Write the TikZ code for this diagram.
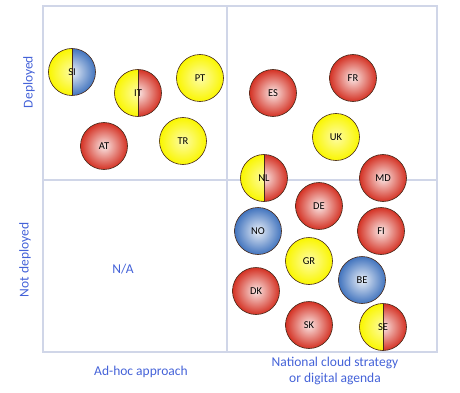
\documentclass[tikz,border=0pt]{standalone}
\usepackage{fontspec}
\setmainfont{Carlito}
\definecolor{gridc}{RGB}{208,214,232}
\definecolor{labelc}{RGB}{68,98,216}
\definecolor{redc}{RGB}{212,50,36}
\definecolor{yelc}{RGB}{250,246,0}
\definecolor{bluec}{RGB}{66,116,190}
\definecolor{rimc}{RGB}{70,40,25}
\tikzset{
  quadline/.style={draw=gridc, line width=1.5pt},
  axis/.style={text=labelc, font=\fontsize{13.5}{16}\selectfont},
  ball/.style={circle, draw=rimc, line width=0.6pt, minimum size=47pt, inner sep=0pt,
    font=\fontsize{10.5}{11}\selectfont},
  redball/.style={ball, inner color=redc!12!white, outer color=redc},
  yelball/.style={ball, inner color=yelc!35!white, outer color=yelc},
  blueball/.style={ball, inner color=bluec!12!white, outer color=bluec},
  halfball/.style={ball, inner color=#1!12!white, outer color=#1,
    path picture={
      \begin{scope}
        \clip (path picture bounding box.south west) rectangle (path picture bounding box.north);
        \shade[inner color=yelc!35!white, outer color=yelc] (path picture bounding box.center) circle (23.5pt);
      \end{scope}
      \draw[rimc, line width=0.9pt] (path picture bounding box.north) -- (path picture bounding box.south);
    }}
}

\begin{document}
\begin{tikzpicture}[x=1pt, y=-1pt]
  \useasboundingbox (0,0) rectangle (460,393);
  % quadrants
  \coordinate (nw) at (43,6);
  \coordinate (se) at (437,352);
  \coordinate (midtop) at (227,6);
  \coordinate (midbot) at (227,352);
  \coordinate (midleft) at (43,180);
  \coordinate (midright) at (437,180);
  \draw[quadline] (nw) rectangle (se);
  \draw[quadline] (midtop) -- (midbot);
  \draw[quadline] (midleft) -- (midright);
  % axis texts
  \node[axis, rotate=90] (dep) at (29,82) {Deployed};
  \node[axis, rotate=90] (notdep) at (25,260) {Not deployed};
  \node[axis] (na) at (123,269) {N/A};
  \node[axis] (adhoc) at (141,372) {Ad-hoc approach};
  \node[axis, align=center] (national) at (335,371) {National cloud strategy\\or digital agenda};
  % deployed, ad-hoc
  \node[halfball=bluec] (SI) at (72,72) {SI};
  \node[halfball=redc] (IT) at (138,93) {IT};
  \node[yelball] (PT) at (200,78) {PT};
  \node[redball] (AT) at (104,146) {AT};
  \node[yelball] (TR) at (183,141) {TR};
  % deployed, national
  \node[redball] (ES) at (273,93) {ES};
  \node[redball] (FR) at (353,78) {FR};
  \node[yelball] (UK) at (336,137) {UK};
  \node[halfball=redc] (NL) at (264,178) {NL};
  \node[redball] (MD) at (383,178) {MD};
  % not deployed, national
  \node[redball] (DE) at (319,206) {DE};
  \node[blueball] (NO) at (258,231) {NO};
  \node[redball] (FI) at (381,231) {FI};
  \node[yelball] (GR) at (309,261) {GR};
  \node[blueball] (BE) at (362,280) {BE};
  \node[redball] (DK) at (256,291) {DK};
  \node[redball] (SK) at (309,325) {SK};
  \node[halfball=redc] (SE) at (383,327) {SE};
\end{tikzpicture}
\end{document}
